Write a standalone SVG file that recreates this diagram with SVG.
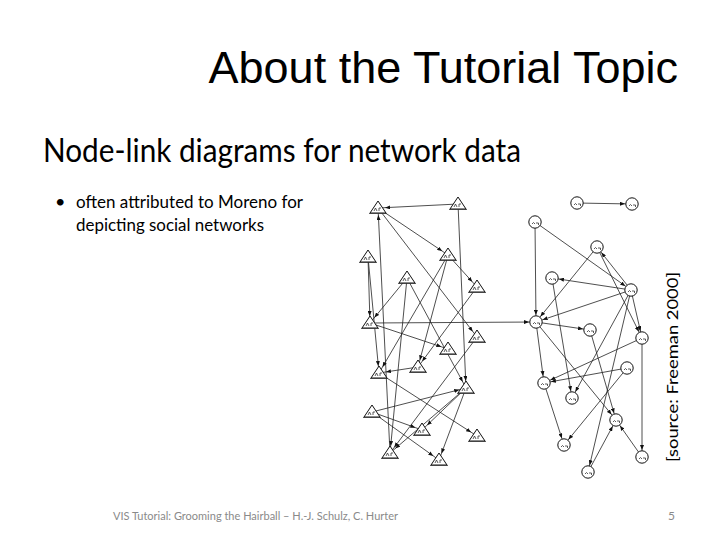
<svg xmlns="http://www.w3.org/2000/svg" xmlns:xlink="http://www.w3.org/1999/xlink" width="720" height="540" viewBox="0 0 720 540">
<style>
.title{font-family:"Liberation Sans",Arial,sans-serif;font-size:45px;fill:#000}
.body{font-family:Lato,"Open Sans",sans-serif;fill:#000}
.foot{font-family:Lato,"Open Sans",sans-serif;font-size:12px;fill:#8a8a8a}
.edge{stroke:#222;stroke-width:0.8;fill:none;marker-end:url(#arr)}
.shape{fill:#fff;stroke:#111;stroke-width:1}
.mark{fill:none;stroke:#333;stroke-width:0.8}
</style>
<defs>
<marker id="arr" markerUnits="userSpaceOnUse" markerWidth="5" markerHeight="4" refX="12" refY="2" orient="auto">
<path d="M0,0 L5,2 L0,4 z" fill="#111"/>
</marker>
<g id="tri">
<polygon class="shape" points="-8,5 0,-7 8,5"/>
<path class="mark" d="M-9,5.5 H9 M-4,3 l1.5,-3 l1.5,3 M1,3 v-3 h2"/>
</g>
<g id="circ">
<circle class="shape" r="6.2"/>
<path class="mark" d="M-3,2 q1.5,-3 3,0 M1,1 h2.5 v2"/>
</g>
</defs>
<rect width="720" height="540" fill="#fff"/>

<text class="title" x="678" y="83" text-anchor="end">About the Tutorial Topic</text>
<text class="body" x="43" y="162" font-size="32" textLength="478" lengthAdjust="spacingAndGlyphs">Node-link diagrams for network data</text>
<text class="body" x="55" y="208" font-size="18">•</text>
<text class="body" x="76" y="208" font-size="18" textLength="227" lengthAdjust="spacingAndGlyphs">often attributed to Moreno for</text>
<text class="body" x="76" y="231" font-size="18" textLength="188" lengthAdjust="spacingAndGlyphs">depicting social networks</text>
<text class="body" transform="translate(678,367) rotate(-90)" text-anchor="middle" font-size="15" textLength="190" lengthAdjust="spacingAndGlyphs">[source: Freeman 2000]</text>
<text class="foot" x="113" y="520" textLength="285" lengthAdjust="spacingAndGlyphs">VIS Tutorial: Grooming the Hairball – H.-J. Schulz, C. Hurter</text>
<text class="foot" x="668" y="520">5</text>

<g id="connectors">
<line class="edge" x1="458" y1="204" x2="378" y2="208"/>
<line class="edge" x1="378" y1="208" x2="448" y2="255"/>
<line class="edge" x1="378" y1="208" x2="477" y2="337"/>
<line class="edge" x1="390" y1="453" x2="378" y2="208"/>
<line class="edge" x1="458" y1="204" x2="466" y2="388"/>
<line class="edge" x1="368" y1="257" x2="370" y2="323" stroke="#999"/>
<line class="edge" x1="368" y1="257" x2="379" y2="373"/>
<line class="edge" x1="448" y1="255" x2="477" y2="287"/>
<line class="edge" x1="448" y1="255" x2="379" y2="373"/>
<line class="edge" x1="448" y1="255" x2="418" y2="367"/>
<line class="edge" x1="407" y1="278" x2="370" y2="323"/>
<line class="edge" x1="407" y1="278" x2="466" y2="388"/>
<line class="edge" x1="407" y1="278" x2="390" y2="453"/>
<line class="edge" x1="477" y1="287" x2="418" y2="367"/>
<line class="edge" x1="370" y1="323" x2="536" y2="322"/>
<line class="edge" x1="370" y1="323" x2="448" y2="349"/>
<line class="edge" x1="379" y1="373" x2="477" y2="436"/>
<line class="edge" x1="418" y1="367" x2="379" y2="373"/>
<line class="edge" x1="372" y1="412" x2="466" y2="388"/>
<line class="edge" x1="372" y1="412" x2="422" y2="430"/>
<line class="edge" x1="372" y1="412" x2="439" y2="460"/>
<line class="edge" x1="466" y1="388" x2="422" y2="430"/>
<line class="edge" x1="466" y1="388" x2="390" y2="453"/>
<line class="edge" x1="466" y1="388" x2="439" y2="460"/>
<line class="edge" x1="477" y1="337" x2="390" y2="453"/>

<line class="edge" x1="577" y1="203" x2="632" y2="204"/>
<line class="edge" x1="535" y1="222" x2="536" y2="322"/>
<line class="edge" x1="535" y1="222" x2="631" y2="290"/>
<line class="edge" x1="597" y1="247" x2="536" y2="322"/>
<line class="edge" x1="631" y1="290" x2="597" y2="247"/>
<line class="edge" x1="597" y1="247" x2="642" y2="338"/>
<line class="edge" x1="631" y1="290" x2="552" y2="278"/>
<line class="edge" x1="631" y1="290" x2="536" y2="322"/>
<line class="edge" x1="552" y1="278" x2="572" y2="398"/>
<line class="edge" x1="536" y1="322" x2="590" y2="330"/>
<line class="edge" x1="536" y1="322" x2="544" y2="383"/>
<line class="edge" x1="536" y1="322" x2="616" y2="420"/>
<line class="edge" x1="590" y1="330" x2="616" y2="420"/>
<line class="edge" x1="631" y1="290" x2="572" y2="398"/>
<line class="edge" x1="631" y1="290" x2="588" y2="472"/>
<line class="edge" x1="631" y1="290" x2="642" y2="338"/>
<line class="edge" x1="642" y1="338" x2="544" y2="383"/>
<line class="edge" x1="642" y1="338" x2="642" y2="457"/>
<line class="edge" x1="627" y1="368" x2="544" y2="383"/>
<line class="edge" x1="627" y1="368" x2="564" y2="445"/>
<line class="edge" x1="544" y1="383" x2="564" y2="445"/>
<line class="edge" x1="642" y1="457" x2="616" y2="420"/>
<line class="edge" x1="588" y1="472" x2="616" y2="420"/>
</g>

<g id="n-t1"><use xlink:href="#tri" x="378" y="208"/></g>
<g id="n-t2"><use xlink:href="#tri" x="458" y="204"/></g>
<g id="n-t3"><use xlink:href="#tri" x="368" y="257"/></g>
<g id="n-t4"><use xlink:href="#tri" x="448" y="255"/></g>
<g id="n-t5"><use xlink:href="#tri" x="407" y="278"/></g>
<g id="n-t6"><use xlink:href="#tri" x="477" y="287"/></g>
<g id="n-t7"><use xlink:href="#tri" x="370" y="323"/></g>
<g id="n-t8"><use xlink:href="#tri" x="477" y="337"/></g>
<g id="n-t9"><use xlink:href="#tri" x="448" y="349"/></g>
<g id="n-t10"><use xlink:href="#tri" x="418" y="367"/></g>
<g id="n-t11"><use xlink:href="#tri" x="379" y="373"/></g>
<g id="n-t12"><use xlink:href="#tri" x="466" y="388"/></g>
<g id="n-t13"><use xlink:href="#tri" x="372" y="412"/></g>
<g id="n-t14"><use xlink:href="#tri" x="422" y="430"/></g>
<g id="n-t15"><use xlink:href="#tri" x="477" y="436"/></g>
<g id="n-t16"><use xlink:href="#tri" x="390" y="453"/></g>
<g id="n-t17"><use xlink:href="#tri" x="439" y="460"/></g>

<g id="n-c1"><use xlink:href="#circ" x="577" y="203"/></g>
<g id="n-c2"><use xlink:href="#circ" x="632" y="204"/></g>
<g id="n-c3"><use xlink:href="#circ" x="535" y="222"/></g>
<g id="n-c4"><use xlink:href="#circ" x="597" y="247"/></g>
<g id="n-c5"><use xlink:href="#circ" x="552" y="278"/></g>
<g id="n-c6"><use xlink:href="#circ" x="631" y="290"/></g>
<g id="n-c7"><use xlink:href="#circ" x="536" y="322"/></g>
<g id="n-c8"><use xlink:href="#circ" x="590" y="330"/></g>
<g id="n-c9"><use xlink:href="#circ" x="642" y="338"/></g>
<g id="n-c10"><use xlink:href="#circ" x="627" y="368"/></g>
<g id="n-c11"><use xlink:href="#circ" x="544" y="383"/></g>
<g id="n-c12"><use xlink:href="#circ" x="572" y="398"/></g>
<g id="n-c13"><use xlink:href="#circ" x="616" y="420"/></g>
<g id="n-c14"><use xlink:href="#circ" x="564" y="445"/></g>
<g id="n-c15"><use xlink:href="#circ" x="642" y="457"/></g>
<g id="n-c16"><use xlink:href="#circ" x="588" y="472"/></g>
</svg>
